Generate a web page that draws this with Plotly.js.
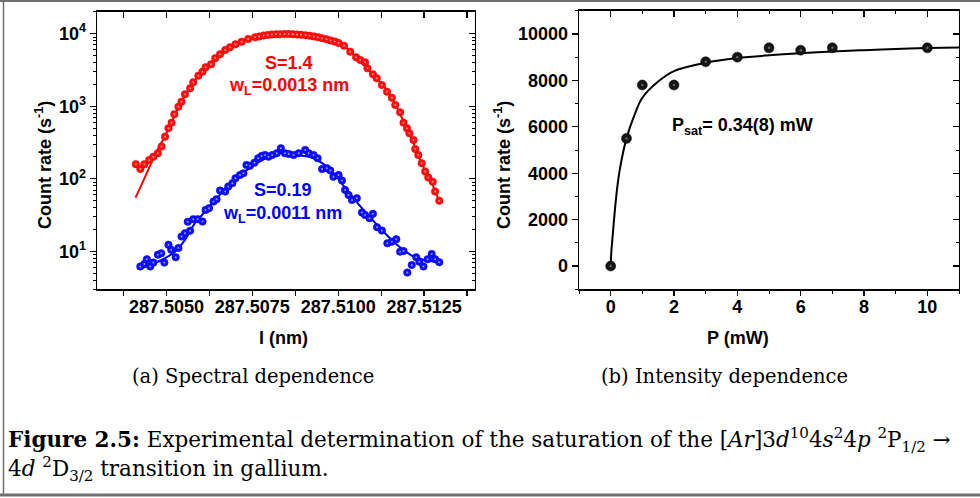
<!DOCTYPE html>
<html>
<head>
<meta charset="utf-8">
<script src="https://cdn.plot.ly/plotly-3.0.1.min.js"></script>
<style>
html,body{margin:0;padding:0;background:#fff;}
#chart{width:980px;height:498px;}
</style>
</head>
<body>
<div id="chart"></div>
<script>
// ---------- Data: (a) spectral dependence ----------
const redX = [287.50411, 287.50424, 287.50436, 287.50450, 287.50462, 287.50475, 287.50486, 287.50496, 287.50506, 287.50515, 287.50523, 287.50535, 287.50544, 287.50554, 287.50569, 287.50578, 287.50593, 287.50605, 287.50614, 287.50630, 287.50642, 287.50656, 287.50671, 287.50685, 287.50701, 287.50719, 287.50738, 287.50758, 287.50770, 287.50783, 287.50795, 287.50807, 287.50819, 287.50831, 287.50844, 287.50856, 287.50868, 287.50880, 287.50892, 287.50905, 287.50917, 287.50929, 287.50941, 287.50953, 287.50966, 287.50978, 287.50990, 287.51001, 287.51017, 287.51035, 287.51052, 287.51064, 287.51078, 287.51085, 287.51101, 287.51112, 287.51127, 287.51142, 287.51156, 287.51166, 287.51180, 287.51190, 287.51200, 287.51207, 287.51219, 287.51224, 287.51233, 287.51243, 287.51253, 287.51262, 287.51275, 287.51282, 287.51294];
const redY = [159, 137, 159, 182, 202, 225, 278, 381, 498, 594, 776, 988, 1157, 1464, 1770, 2140, 2640, 2999, 3444, 3790, 4585, 5200, 5965, 6500, 7145, 7760, 8460, 8920, 9150, 9445, 9600, 9720, 9810, 9845, 9870, 9870, 9845, 9750, 9660, 9505, 9355, 9185, 8955, 8675, 8375, 8060, 7810, 7450, 6840, 5650, 4730, 4345, 4035, 3335, 2760, 2430, 1964, 1589, 1312, 1042, 826, 594, 498, 424, 344, 258, 213, 164, 126, 104, 91, 67, 50];
const redFitX = [287.5041, 287.5043, 287.5045, 287.5047, 287.5049, 287.5051, 287.5053, 287.5055, 287.5057, 287.5059, 287.5061, 287.5063, 287.5065, 287.5067, 287.5069, 287.5071, 287.5073, 287.5075, 287.5077, 287.5079, 287.5081, 287.5083, 287.5085, 287.5087, 287.5089, 287.5091, 287.5093, 287.5095, 287.5097, 287.5099, 287.5101, 287.5103, 287.5105, 287.5107, 287.5109, 287.5111, 287.5113, 287.5115, 287.5117, 287.5119, 287.5121, 287.5123, 287.5125, 287.5127, 287.5129];
const redFitY = [55, 88, 143, 230, 345, 530, 860, 1300, 1850, 2500, 3150, 3900, 4750, 5700, 6550, 7400, 8150, 8700, 9150, 9550, 9760, 9850, 9870, 9840, 9700, 9450, 9150, 8850, 8300, 7750, 7100, 6000, 4800, 3900, 3050, 2450, 1950, 1450, 980, 620, 400, 225, 140, 92, 55];

const blueX = [287.50424, 287.50436, 287.50443, 287.50453, 287.50462, 287.50475, 287.50485, 287.50494, 287.50506, 287.50514, 287.50527, 287.50535, 287.50544, 287.50554, 287.50562, 287.50569, 287.50578, 287.50591, 287.50605, 287.50614, 287.50624, 287.50637, 287.50646, 287.50656, 287.50671, 287.50680, 287.50692, 287.50701, 287.50714, 287.50724, 287.50733, 287.50743, 287.50756, 287.50767, 287.50777, 287.50787, 287.50797, 287.50808, 287.50821, 287.50833, 287.50845, 287.50856, 287.50870, 287.50885, 287.50904, 287.50914, 287.50928, 287.50940, 287.50953, 287.50967, 287.50977, 287.50986, 287.51001, 287.51011, 287.51020, 287.51030, 287.51040, 287.51054, 287.51069, 287.51078, 287.51091, 287.51101, 287.51113, 287.51127, 287.51143, 287.51156, 287.51169, 287.51180, 287.51190, 287.51201, 287.51214, 287.51227, 287.51236, 287.51248, 287.51260, 287.51272, 287.51282, 287.51294];
const blueY = [6.2, 6.7, 7.8, 6.2, 7.0, 9.0, 9.4, 7.0, 12.3, 10.5, 8.3, 11.1, 16.0, 17.8, 25.5, 19.3, 27.8, 27.8, 25.7, 37.3, 39.4, 48.5, 52.4, 68.8, 66.6, 78.1, 87.0, 102, 113, 119, 155, 151, 167, 192, 207, 213, 202, 213, 225, 264, 225, 220, 213, 225, 250, 225, 213, 192, 136, 140, 130, 107, 113, 94.5, 70.3, 60.0, 51.2, 54.1, 34.2, 31.8, 28.7, 32.9, 21.5, 19.4, 12.9, 13.6, 14.7, 9.9, 10.1, 5.1, 6.5, 8.3, 7.2, 6.2, 7.8, 9.2, 7.8, 7.1];
const blueFitX = [287.50428, 287.50486, 287.50525, 287.50554, 287.50583, 287.50613, 287.50651, 287.50700, 287.50748, 287.50797, 287.50845, 287.50880, 287.50928, 287.50977, 287.51025, 287.51074, 287.51122, 287.51171, 287.51219, 287.51258, 287.51297];
const blueFitY = [5.9, 7.6, 9.9, 14.4, 24.5, 35.3, 56.9, 96.6, 147, 199, 230, 213, 192, 133, 70, 37, 20.9, 12.3, 8.5, 7.5, 7.2];

// ---------- Data: (b) intensity dependence ----------
const powerX = [0, 0.5, 1, 2, 3, 4, 5, 6, 7, 10];
const countY = [0, 5500, 7800, 7800, 8800, 9000, 9400, 9300, 9400, 9400];
const fitP = [0, 0.02, 0.05, 0.1, 0.2, 0.3, 0.5, 0.75, 1, 1.5, 2, 3, 4, 5, 6, 7, 8, 9, 10, 11];
const fitC = [0, 600, 1100, 1900, 3300, 4250, 5500, 6500, 7250, 7950, 8400, 8760, 8960, 9080, 9170, 9240, 9300, 9350, 9390, 9420];

// ---------- Tick labels / texts ----------
const logTickVals = [10, 100, 1000, 10000];
const logTickText = ['10<sup>1</sup>', '10<sup>2</sup>', '10<sup>3</sup>', '10<sup>4</sup>'];
const yTitle = 'Count rate (s<sup>-1</sup>)';
const xTitleA = 'l (nm)';
const xTitleB = 'P (mW)';
const capA = '(a) Spectral dependence';
const capB = '(b) Intensity dependence';
const capLine1 = '<b>Figure 2.5:</b> Experimental determination of the saturation of the [<i>Ar</i>]3<i>d</i><sup>10</sup>4<i>s</i><sup>2</sup>4<i>p</i> <sup>2</sup>P<sub>1/2</sub> \u2192';
const capLine2 = '4<i>d</i> <sup>2</sup>D<sub>3/2</sub> transition in gallium.';

// ---------- Layout helpers ----------
const W = 980, H = 498;
const px = v => v / W;
const py = v => 1 - v / H;
const SANS = 'Liberation Sans, Arial, sans-serif';
const SERIF = 'DejaVu Serif, serif';
const tickFont = {family: SANS, size: 18, color: '#000', weight: 'bold'};

const minorLog = [];
for (let e = 0; e <= 4; e++) for (let d = 2; d <= 9; d++) minorLog.push(d * Math.pow(10, e));

const rangeA = [287.50298, 287.51398];
const rangeLog = [Math.log10(3), Math.log10(20100)];
const rangeBx = [-1, 11];
const rangeBy = [-1000, 11000];

const baseAxis = {
  showgrid: false, zeroline: false, showline: true, linecolor: '#000', linewidth: 1.3,
  tickcolor: '#000', tickwidth: 1.3, tickfont: tickFont, fixedrange: true
};

const dataTraces = [
  {x: redFitX, y: redFitY, mode: 'lines', line: {color: '#ff0000', width: 2, shape: 'spline'}, xaxis: 'x', yaxis: 'y', hoverinfo: 'skip'},
  {x: redX, y: redY, mode: 'markers', marker: {color: '#ff1010', size: 7.5, line: {width: 0.5, color: '#e00000'}}, xaxis: 'x', yaxis: 'y'},
  {x: redX, y: redY, mode: 'markers', marker: {color: 'rgba(255,160,160,0.9)', size: 2}, xaxis: 'x', yaxis: 'y', hoverinfo: 'skip'},
  {x: blueFitX, y: blueFitY, mode: 'lines', line: {color: '#0000ff', width: 2, shape: 'spline'}, xaxis: 'x', yaxis: 'y', hoverinfo: 'skip'},
  {x: blueX, y: blueY, mode: 'markers', marker: {color: '#1010ff', size: 7.5, line: {width: 0.5, color: '#0000e0'}}, xaxis: 'x', yaxis: 'y'},
  {x: blueX, y: blueY, mode: 'markers', marker: {color: 'rgba(165,165,255,0.9)', size: 2}, xaxis: 'x', yaxis: 'y', hoverinfo: 'skip'},
  {x: fitP, y: fitC, mode: 'lines', line: {color: '#000', width: 2, shape: 'spline'}, xaxis: 'x2', yaxis: 'y2', hoverinfo: 'skip'},
  {x: powerX, y: countY, mode: 'markers', marker: {color: '#151515', size: 10, line: {width: 0.5, color: '#000'}}, xaxis: 'x2', yaxis: 'y2'},
  {x: powerX, y: countY, mode: 'markers', marker: {color: 'rgba(110,110,110,0.9)', size: 2.5}, xaxis: 'x2', yaxis: 'y2', hoverinfo: 'skip'},
  // empty traces to activate mirrored (inward-tick) axes
  {x: [], y: [], mode: 'markers', xaxis: 'x3', yaxis: 'y3', hoverinfo: 'skip'},
  {x: [], y: [], mode: 'markers', xaxis: 'x4', yaxis: 'y4', hoverinfo: 'skip'}
];

const domAx = [px(97), px(475)];
const domAy = [py(289.3), py(11.7)];
const domBx = [px(579), px(959)];
const domBy = [py(289.3), py(10.7)];

const layout = {
  width: W, height: H,
  margin: {l: 0, r: 0, t: 0, b: 0, pad: 0},
  paper_bgcolor: '#fff', plot_bgcolor: 'rgba(0,0,0,0)',
  showlegend: false,
  font: {family: SANS, color: '#000'},
  xaxis: Object.assign({}, baseAxis, {
    domain: domAx, anchor: 'y', range: rangeA, tickmode: 'linear', tick0: 287.505, dtick: 0.0025,
    tickformat: '.4f', ticks: 'outside', ticklen: 5, ticklabelstandoff: -4,
    minor: {tickmode: 'linear', tick0: 287.50375, dtick: 0.0025, ticks: 'outside', ticklen: 5, tickcolor: '#000', tickwidth: 1.3}
  }),
  yaxis: Object.assign({}, baseAxis, {
    domain: domAy, anchor: 'x', type: 'log', range: rangeLog, tickmode: 'array',
    tickvals: logTickVals, ticktext: logTickText, ticks: 'outside', ticklen: 6,
    minor: {tickmode: 'array', tickvals: minorLog, ticks: 'outside', ticklen: 3, tickcolor: '#000', tickwidth: 1}
  }),
  xaxis3: Object.assign({}, baseAxis, {
    overlaying: 'x', anchor: 'y', side: 'top', range: rangeA, tickmode: 'linear', tick0: 287.505, dtick: 0.0025,
    showticklabels: false, ticks: 'inside', ticklen: 6,
    minor: {tickmode: 'linear', tick0: 287.50375, dtick: 0.0025, ticks: 'inside', ticklen: 6, tickcolor: '#000', tickwidth: 1.3}
  }),
  yaxis3: Object.assign({}, baseAxis, {
    overlaying: 'y', anchor: 'x', side: 'right', type: 'log', range: rangeLog, tickmode: 'array',
    tickvals: logTickVals, showticklabels: false, ticks: 'inside', ticklen: 6,
    minor: {tickmode: 'array', tickvals: minorLog, ticks: 'inside', ticklen: 3, tickcolor: '#000', tickwidth: 1}
  }),
  xaxis2: Object.assign({}, baseAxis, {
    domain: domBx, anchor: 'y2', range: rangeBx, tickmode: 'linear', tick0: 0, dtick: 2,
    ticks: 'outside', ticklen: 5, ticklabelstandoff: -4,
    minor: {tickmode: 'linear', tick0: 1, dtick: 1, ticks: 'outside', ticklen: 3, tickcolor: '#000', tickwidth: 1}
  }),
  yaxis2: Object.assign({}, baseAxis, {
    domain: domBy, anchor: 'x2', range: rangeBy, tickmode: 'linear', tick0: 0, dtick: 2000, tickformat: 'd',
    ticks: 'outside', ticklen: 6,
    minor: {tickmode: 'linear', tick0: 1000, dtick: 1000, ticks: 'outside', ticklen: 3, tickcolor: '#000', tickwidth: 1}
  }),
  xaxis4: Object.assign({}, baseAxis, {
    overlaying: 'x2', anchor: 'y2', side: 'top', range: rangeBx, tickmode: 'linear', tick0: 0, dtick: 2,
    showticklabels: false, ticks: 'inside', ticklen: 6,
    minor: {tickmode: 'linear', tick0: 1, dtick: 1, ticks: 'inside', ticklen: 3, tickcolor: '#000', tickwidth: 1}
  }),
  yaxis4: Object.assign({}, baseAxis, {
    overlaying: 'y2', anchor: 'x2', side: 'right', range: rangeBy, tickmode: 'linear', tick0: 0, dtick: 2000,
    showticklabels: false, ticks: 'inside', ticklen: 6,
    minor: {tickmode: 'linear', tick0: 1000, dtick: 1000, ticks: 'inside', ticklen: 3, tickcolor: '#000', tickwidth: 1}
  }),
  annotations: [
    {text: 'S=1.4', x: px(289), y: py(63), xref: 'paper', yref: 'paper', showarrow: false, xanchor: 'center', yanchor: 'middle', font: {family: SANS, size: 18, color: '#ff0000', weight: 'bold'}},
    {text: 'w<sub>L</sub>=0.0013 nm', x: px(289), y: py(87), xref: 'paper', yref: 'paper', showarrow: false, xanchor: 'center', yanchor: 'middle', font: {family: SANS, size: 18, color: '#ff0000', weight: 'bold'}},
    {text: 'S=0.19', x: px(283), y: py(190), xref: 'paper', yref: 'paper', showarrow: false, xanchor: 'center', yanchor: 'middle', font: {family: SANS, size: 18, color: '#0000ff', weight: 'bold'}},
    {text: 'w<sub>L</sub>=0.0011 nm', x: px(282.5), y: py(214), xref: 'paper', yref: 'paper', showarrow: false, xanchor: 'center', yanchor: 'middle', font: {family: SANS, size: 18, color: '#0000ff', weight: 'bold'}},
    {text: 'P<sub>sat</sub>= 0.34(8) mW', x: px(670), y: py(126), xref: 'paper', yref: 'paper', showarrow: false, xanchor: 'left', yanchor: 'middle', font: {family: SANS, size: 18, color: '#000', weight: 'bold'}},
    {text: yTitle, textangle: -90, x: px(43), y: py(165), xref: 'paper', yref: 'paper', showarrow: false, xanchor: 'center', yanchor: 'middle', font: {family: SANS, size: 18, color: '#000', weight: 'bold'}},
    {text: yTitle, textangle: -90, x: px(502), y: py(165), xref: 'paper', yref: 'paper', showarrow: false, xanchor: 'center', yanchor: 'middle', font: {family: SANS, size: 18, color: '#000', weight: 'bold'}},
    {text: xTitleA, x: px(283), y: py(338), xref: 'paper', yref: 'paper', showarrow: false, xanchor: 'center', yanchor: 'middle', font: {family: SANS, size: 18, color: '#000', weight: 'bold'}},
    {text: xTitleB, x: px(738), y: py(338), xref: 'paper', yref: 'paper', showarrow: false, xanchor: 'center', yanchor: 'middle', font: {family: SANS, size: 18, color: '#000', weight: 'bold'}},
    {text: capA, x: px(253), y: py(376), xref: 'paper', yref: 'paper', showarrow: false, xanchor: 'center', yanchor: 'middle', font: {family: SERIF, size: 19.5, color: '#000'}},
    {text: capB, x: px(724), y: py(376), xref: 'paper', yref: 'paper', showarrow: false, xanchor: 'center', yanchor: 'middle', font: {family: SERIF, size: 19.5, color: '#000'}},
    {text: capLine1, x: px(6), y: py(440), xref: 'paper', yref: 'paper', showarrow: false, xanchor: 'left', yanchor: 'middle', font: {family: SERIF, size: 21.5, color: '#000'}},
    {text: capLine2, x: px(6), y: py(469), xref: 'paper', yref: 'paper', showarrow: false, xanchor: 'left', yanchor: 'middle', font: {family: SERIF, size: 21.5, color: '#000'}}
  ],
  shapes: [
    {type: 'line', xref: 'paper', yref: 'paper', x0: px(3.5), x1: px(3.5), y0: py(0), y1: py(495), line: {color: '#707070', width: 1.5}},
    {type: 'line', xref: 'paper', yref: 'paper', x0: 0, x1: 1, y0: py(1), y1: py(1), line: {color: '#707070', width: 2}},
    {type: 'line', xref: 'paper', yref: 'paper', x0: 0, x1: 1, y0: py(495), y1: py(495), line: {color: '#707070', width: 3}}
  ]
};

Plotly.newPlot('chart', dataTraces, layout, {staticPlot: true, displayModeBar: false});
</script>
</body>
</html>
